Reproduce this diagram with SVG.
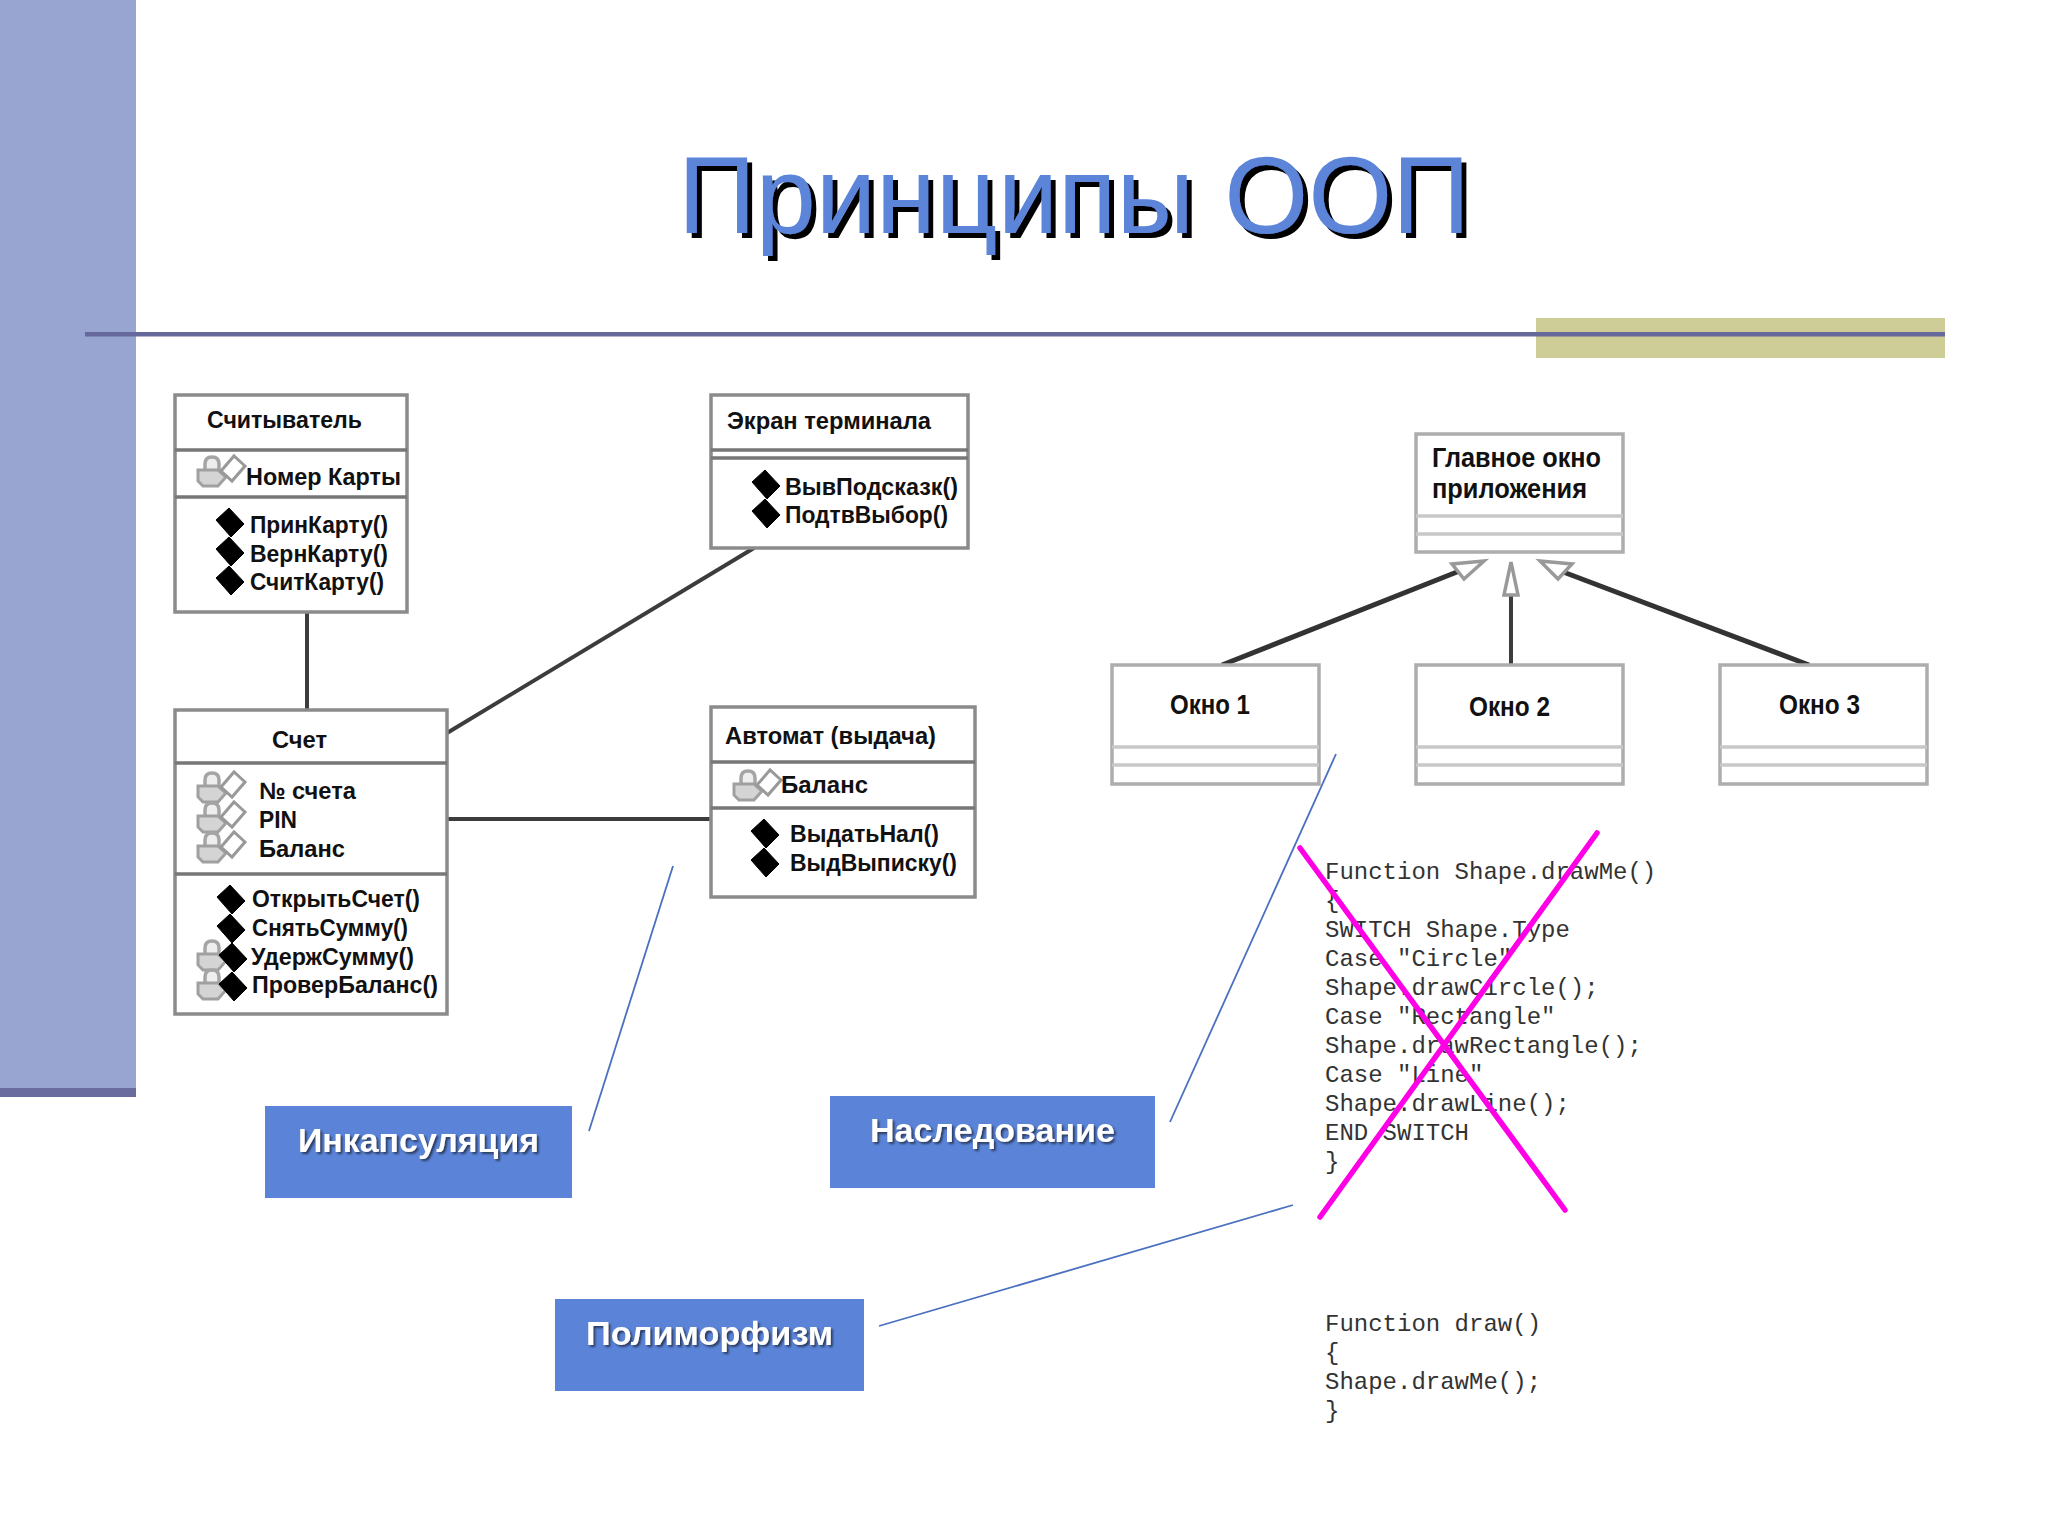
<svg xmlns="http://www.w3.org/2000/svg" xmlns:xlink="http://www.w3.org/1999/xlink" width="2048" height="1536" viewBox="0 0 2048 1536">
<style>
.box{fill:#fff;stroke:#8b8b8b;stroke-width:3.5}
.div{stroke:#777;stroke-width:3.500;fill:none}
.box2{fill:#fff;stroke:#adadad;stroke-width:3.5}
.div2{stroke:#c8c8c8;stroke-width:3.5;fill:none}
.t{font-family:"Liberation Sans",Arial,sans-serif;font-weight:700;font-size:24px;fill:#111}
.t2{font-family:"Liberation Sans",Arial,sans-serif;font-weight:700;font-size:27px;fill:#111}
.c{font-family:"Liberation Mono","Courier New",monospace;font-size:24px;fill:#333;white-space:pre}
.lab{fill:#5b84d8}
.labt{font-family:"Liberation Sans",Arial,sans-serif;font-weight:700;font-size:34px;fill:#fff;filter:url(#ls)}
.conn{stroke:#3c3c3c;stroke-width:4;fill:none}
.conn2{stroke:#333;stroke-width:5;fill:none}
.thin{stroke:#4a70c0;stroke-width:1.8;fill:none}
.x{stroke:#ff00e6;stroke-width:5.5;fill:none;stroke-linecap:round}
.arr{fill:#fff;stroke:#999;stroke-width:3.5}
</style>
<defs>
<filter id="ts" x="-5%" y="-20%" width="110%" height="140%"><feDropShadow dx="5" dy="5" stdDeviation="0" flood-color="#000"/></filter>
<filter id="ls" x="-5%" y="-20%" width="110%" height="140%"><feDropShadow dx="2" dy="2" stdDeviation="1" flood-color="#2a3a60"/></filter>
<g id="lock"><path d="M6 13 V7 Q6 0 13 0 Q20 0 20 7 V13" fill="#eee" stroke="#a5a5a5" stroke-width="3.500"/><path d="M-1 13 H19 L27 20 L19 29 H4 L-1 24 Z" fill="#d4d4d4" stroke="#a0a0a0" stroke-width="3"/></g>
<path id="dopen" d="M0 9 L13 -6 L24 4 L11 19 Z" fill="#fff" stroke="#999" stroke-width="3"/>
<path id="dm" d="M-14 -2 L-1 -14 L14 2 L1 15 Z" fill="#000" stroke="#000" stroke-width="1" stroke-linejoin="round"/>
<g id="priv"><use href="#lock"/><use href="#dopen" x="22" y="5"/></g>
</defs>
<rect width="2048" height="1536" fill="#fff"/>
<g id="decor">
<rect x="0" y="0" width="136" height="1090" fill="#98a5d0"/>
<rect x="0" y="1088" width="136" height="9" fill="#6a6b9e"/>
<rect x="1536" y="318" width="409" height="40" fill="#cfcd97"/>
<rect x="85" y="332" width="1860" height="4.500" fill="#66679a"/>
</g>
<text id="title" x="678" y="233" textLength="792" lengthAdjust="spacingAndGlyphs" font-family="'Liberation Sans',Arial,sans-serif" font-size="109" fill="#5b84d8" filter="url(#ts)">Принципы ООП</text>
<g id="connectors">
<path class="conn" d="M307 612V710"/>
<path class="conn" d="M447 733L754 548"/>
<path class="conn" d="M447 819H711"/>
<path class="conn2" d="M1222 665L1462 570"/>
<path class="conn" d="M1511 665V595"/>
<path class="conn2" d="M1809 665L1558 570"/>
<path class="arr" d="M1484 561L1452 564L1464 579Z"/>
<path class="arr" d="M1511 562L1504 595H1518Z"/>
<path class="arr" d="M1540 561L1572 564L1558 579Z"/>
<path class="thin" d="M673 866L589 1131"/>
<path class="thin" d="M1336 754L1170 1122"/>
<path class="thin" d="M1293 1205L879 1326"/>
</g>
<g id="schityvatel">
<rect class="box" x="175" y="395" width="232" height="217"/>
<path class="div" d="M175 450H407M175 497H407"/>
<use href="#priv" x="199" y="457"/>
<use href="#dm" x="230" y="522"/><use href="#dm" x="230" y="551"/><use href="#dm" x="230" y="580"/>
<text class="t" x="207" y="428" textLength="155" lengthAdjust="spacingAndGlyphs">Считыватель</text>
<text class="t" x="246" y="485" textLength="155" lengthAdjust="spacingAndGlyphs">Номер Карты</text>
<text class="t" x="250" y="533" textLength="138" lengthAdjust="spacingAndGlyphs">ПринКарту()</text>
<text class="t" x="250" y="562" textLength="138" lengthAdjust="spacingAndGlyphs">ВернКарту()</text>
<text class="t" x="250" y="590" textLength="134" lengthAdjust="spacingAndGlyphs">СчитКарту()</text>
</g>
<g id="schet">
<rect class="box" x="175" y="710" width="272" height="304"/>
<path class="div" d="M175 763H447M175 874H447"/>
<use href="#priv" x="199" y="773"/><use href="#priv" x="199" y="803"/><use href="#priv" x="199" y="833"/>
<use href="#lock" x="199" y="941"/><use href="#lock" x="199" y="970"/>
<use href="#dm" x="231" y="899"/><use href="#dm" x="231" y="928"/><use href="#dm" x="233" y="957"/><use href="#dm" x="233" y="986"/>
<text class="t" x="272" y="748" textLength="55" lengthAdjust="spacingAndGlyphs">Счет</text>
<text class="t" x="259" y="799" textLength="97" lengthAdjust="spacingAndGlyphs">№ счета</text>
<text class="t" x="259" y="828" textLength="38" lengthAdjust="spacingAndGlyphs">PIN</text>
<text class="t" x="259" y="857" textLength="86" lengthAdjust="spacingAndGlyphs">Баланс</text>
<text class="t" x="252" y="907" textLength="168" lengthAdjust="spacingAndGlyphs">ОткрытьСчет()</text>
<text class="t" x="252" y="936" textLength="156" lengthAdjust="spacingAndGlyphs">СнятьСумму()</text>
<text class="t" x="251" y="965" textLength="163" lengthAdjust="spacingAndGlyphs">УдержСумму()</text>
<text class="t" x="252" y="993" textLength="186" lengthAdjust="spacingAndGlyphs">ПроверБаланс()</text>
</g>
<g id="ekran">
<rect class="box" x="711" y="395" width="257" height="153"/>
<path class="div" d="M711 450H968M711 458H968"/>
<use href="#dm" x="766" y="484"/><use href="#dm" x="766" y="513"/>
<text class="t" x="727" y="429" textLength="204" lengthAdjust="spacingAndGlyphs">Экран терминала</text>
<text class="t" x="785" y="495" textLength="173" lengthAdjust="spacingAndGlyphs">ВывПодсказк()</text>
<text class="t" x="785" y="523" textLength="163" lengthAdjust="spacingAndGlyphs">ПодтвВыбор()</text>
</g>
<g id="avtomat">
<rect class="box" x="711" y="707" width="264" height="190"/>
<path class="div" d="M711 762H975M711 808H975"/>
<use href="#priv" x="735" y="771"/>
<use href="#dm" x="765" y="833"/><use href="#dm" x="765" y="862"/>
<text class="t" x="725" y="744" textLength="211" lengthAdjust="spacingAndGlyphs">Автомат (выдача)</text>
<text class="t" x="781" y="793" textLength="87" lengthAdjust="spacingAndGlyphs">Баланс</text>
<text class="t" x="790" y="842" textLength="149" lengthAdjust="spacingAndGlyphs">ВыдатьНал()</text>
<text class="t" x="790" y="871" textLength="167" lengthAdjust="spacingAndGlyphs">ВыдВыписку()</text>
</g>
<g id="glavnoe">
<rect class="box2" x="1416" y="434" width="207" height="118"/>
<path class="div2" d="M1416 516H1623M1416 534H1623"/>
<text class="t2" x="1432" y="467" textLength="169" lengthAdjust="spacingAndGlyphs">Главное окно</text>
<text class="t2" x="1432" y="498" textLength="155" lengthAdjust="spacingAndGlyphs">приложения</text>
</g>
<g id="okno1">
<rect class="box2" x="1112" y="665" width="207" height="119"/>
<path class="div2" d="M1112 747H1319M1112 765H1319"/>
<text class="t2" x="1170" y="714" textLength="80" lengthAdjust="spacingAndGlyphs">Окно 1</text>
</g>
<g id="okno2">
<rect class="box2" x="1416" y="665" width="207" height="119"/>
<path class="div2" d="M1416 747H1623M1416 765H1623"/>
<text class="t2" x="1469" y="716" textLength="81" lengthAdjust="spacingAndGlyphs">Окно 2</text>
</g>
<g id="okno3">
<rect class="box2" x="1720" y="665" width="207" height="119"/>
<path class="div2" d="M1720 747H1927M1720 765H1927"/>
<text class="t2" x="1779" y="714" textLength="81" lengthAdjust="spacingAndGlyphs">Окно 3</text>
</g>
<g id="code1">
<text class="c" x="1325" y="878.500">Function Shape.drawMe()</text>
<text class="c" x="1325" y="907.500">{</text>
<text class="c" x="1325" y="936.500">SWITCH Shape.Type</text>
<text class="c" x="1325" y="965.500">Case "Circle"</text>
<text class="c" x="1325" y="994.500">Shape.drawCircle();</text>
<text class="c" x="1325" y="1023.500">Case "Rectangle"</text>
<text class="c" x="1325" y="1052.500">Shape.drawRectangle();</text>
<text class="c" x="1325" y="1081.500">Case "Line"</text>
<text class="c" x="1325" y="1110.500">Shape.drawLine();</text>
<text class="c" x="1325" y="1139.500">END SWITCH</text>
<text class="c" x="1325" y="1168.500">}</text>
</g>
<g id="cross">
<path class="x" d="M1300 848L1565 1210"/>
<path class="x" d="M1597 833L1320 1217"/>
</g>
<g id="code2">
<text class="c" x="1325" y="1331">Function draw()</text>
<text class="c" x="1325" y="1360">{</text>
<text class="c" x="1325" y="1389">Shape.drawMe();</text>
<text class="c" x="1325" y="1418">}</text>
</g>
<g id="incaps"><rect class="lab" x="265" y="1106" width="307" height="92"/><text class="labt" x="298" y="1152" textLength="241" lengthAdjust="spacingAndGlyphs">Инкапсуляция</text></g>
<g id="nasled"><rect class="lab" x="830" y="1096" width="325" height="92"/><text class="labt" x="870" y="1142" textLength="245" lengthAdjust="spacingAndGlyphs">Наследование</text></g>
<g id="polim"><rect class="lab" x="555" y="1299" width="309" height="92"/><text class="labt" x="586" y="1345" textLength="247" lengthAdjust="spacingAndGlyphs">Полиморфизм</text></g>
</svg>
